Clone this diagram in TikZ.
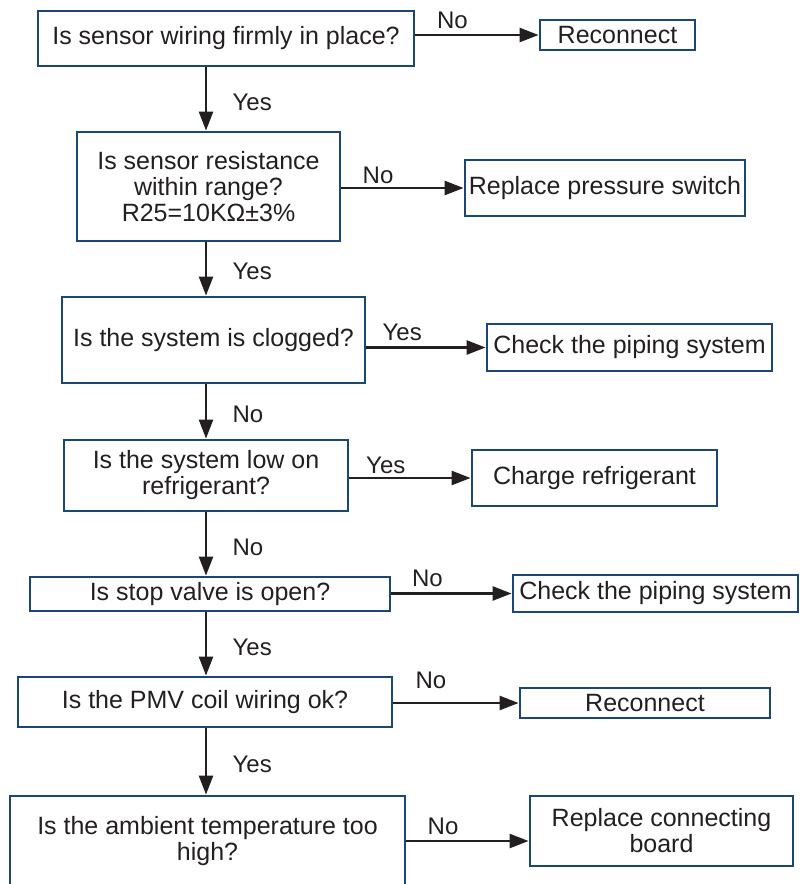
\documentclass[tikz,border=0pt]{standalone}
\usepackage{fontspec}
\setmainfont{Liberation Sans}
\usepackage{tikz}
\usetikzlibrary{arrows.meta}
\definecolor{boxblue}{HTML}{1C4775}
\definecolor{ink}{HTML}{231F20}

\begin{document}
\begin{tikzpicture}[x=1pt, y=-1pt,
  every node/.style={font=\fontsize{25}{26}\selectfont, text=ink},
  qbox/.style={draw=boxblue, line width=2.8pt, align=center, inner sep=2pt},
  arr/.style={-{Triangle[length=19pt,width=14pt]}, line width=2.5pt, draw=ink},
  lbl/.style={font=\fontsize{24}{26}\selectfont}]
  \useasboundingbox (0,0) rectangle (804,884);
  \clip (0,0) rectangle (804,884);
  \coordinate (spine) at (206,0);

  % Questions
  \node[qbox, minimum width=376pt, minimum height=55pt] (q1) at (226,38.5) {Is sensor wiring firmly in place?};
  \node[qbox, minimum width=263pt, minimum height=109pt] (q2) at (208.5,186.5) {Is sensor resistance\\within range?\\R25=10KΩ±3\%};
  \node[qbox, minimum width=303pt, minimum height=86pt] (q3) at (213.5,340) {Is the system is clogged?};
  \node[qbox, minimum width=284pt, minimum height=71pt] (q4) at (206,475.5) {Is the system low on\\refrigerant?};
  \node[qbox, minimum width=360pt, minimum height=34pt] (q5) at (210,594) {Is stop valve is open?};
  \node[qbox, minimum width=374pt, minimum height=50pt] (q6) at (205,702) {Is the PMV coil wiring ok?};
  \node[qbox, minimum width=395pt, minimum height=90pt] (q7) at (207.5,841) {Is the ambient temperature too\\high?};

  % Actions
  \node[qbox, minimum width=155pt, minimum height=30pt] (r1) at (617.5,35) {Reconnect};
  \node[qbox, minimum width=280pt, minimum height=56pt] (r2) at (605,188) {Replace pressure switch};
  \node[qbox, minimum width=285pt, minimum height=47pt] (r3) at (629.5,347.5) {Check the piping system};
  \node[qbox, minimum width=245pt, minimum height=56pt] (r4) at (594.5,478) {Charge refrigerant};
  \node[qbox, minimum width=285pt, minimum height=37pt] (r5) at (655.5,593.5) {Check the piping system};
  \node[qbox, minimum width=250pt, minimum height=30pt] (r6) at (645,703) {Reconnect};
  \node[qbox, minimum width=263pt, minimum height=70pt] (r7) at (661.5,831) {Replace connecting\\board};

  % Main line
  \foreach \a/\b/\t in {q1/q2/Yes, q2/q3/Yes, q3/q4/No, q4/q5/No, q5/q6/Yes, q6/q7/Yes}
    \draw[arr] (\a.south -| spine) -- node[lbl, right, xshift=22pt, pos=0.55] {\t} (\b.north -| spine);

  % Side branches
  \foreach \a/\b/\t/\up in {q1/r1/No/2, q2/r2/No/0, q3/r3/Yes/2, q4/r4/Yes/0, q5/r5/No/2, q6/r6/No/10}
    \draw[arr] (\a.east |- \b.west) -- node[lbl, above, pos=0.3, yshift=\up pt] {\t} (\b.west);
  \draw[arr] (q7.east) -- node[lbl, above, pos=0.3, yshift=2pt] {No} (q7.east -| r7.west);
\end{tikzpicture}
\end{document}
